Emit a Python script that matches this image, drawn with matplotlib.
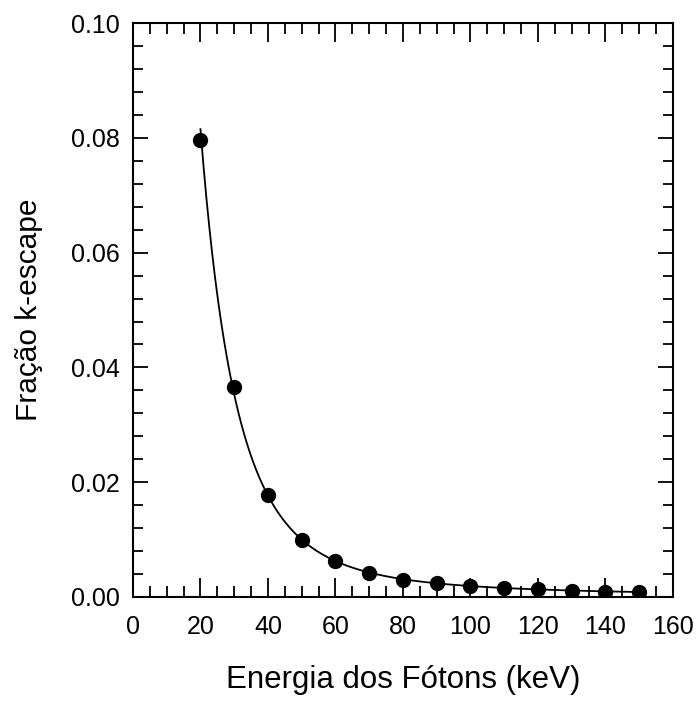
import matplotlib.pyplot as plt
import numpy as np
from matplotlib.ticker import MultipleLocator

# energia (keV) e fracao k-escape
energia = [20, 30, 40, 50, 60, 70, 80, 90, 100, 110, 120, 130, 140, 150]
fracao = [0.0796, 0.0366, 0.0178, 0.0099, 0.0063, 0.0042, 0.0030,
          0.0024, 0.0019, 0.0016, 0.0014, 0.0011, 0.0009, 0.0009]

plt.rcParams['font.family'] = ['Liberation Sans', 'DejaVu Sans']

fig = plt.figure(figsize=(6.98, 7.01), dpi=100)
ax = fig.add_axes([0.1905, 0.1484, 0.7735, 0.8186])

# curva suave ajustada (polinomio em log)
e = np.array(energia, dtype=float)
f = np.array(fracao)
coef = np.polyfit(e, np.log(f), 4)
xs = np.linspace(e[0], e[-1], 300)
ax.plot(xs, np.exp(np.polyval(coef, xs)), color='black', lw=1.3)
ax.plot(energia, fracao, 'o', color='black', ms=10)

ax.set_xlim(0, 160)
ax.set_ylim(0, 0.10)
ax.xaxis.set_major_locator(MultipleLocator(20))
ax.xaxis.set_minor_locator(MultipleLocator(5))
ax.yaxis.set_major_locator(MultipleLocator(0.02))
ax.yaxis.set_minor_locator(MultipleLocator(0.004))
ax.yaxis.set_major_formatter(plt.FormatStrFormatter('%.2f'))

ax.tick_params(axis='x', which='both', direction='in', top=True, labelsize=18, pad=13, width=1.3)
ax.tick_params(axis='x', which='major', length=14)
ax.tick_params(axis='x', which='minor', length=8)
ax.tick_params(axis='y', which='both', direction='in', right=True, labelsize=18, pad=9.5, width=1.3)
ax.tick_params(axis='y', which='major', length=11)
ax.tick_params(axis='y', which='minor', length=7)
for s in ax.spines.values():
    s.set_linewidth(1.5)

ax.set_xlabel('Energia dos Fótons (keV)', fontsize=22.5, labelpad=19)
ax.set_ylabel('Fração k-escape', fontsize=21.5, labelpad=20)

fig.savefig('out.png', dpi=100)
